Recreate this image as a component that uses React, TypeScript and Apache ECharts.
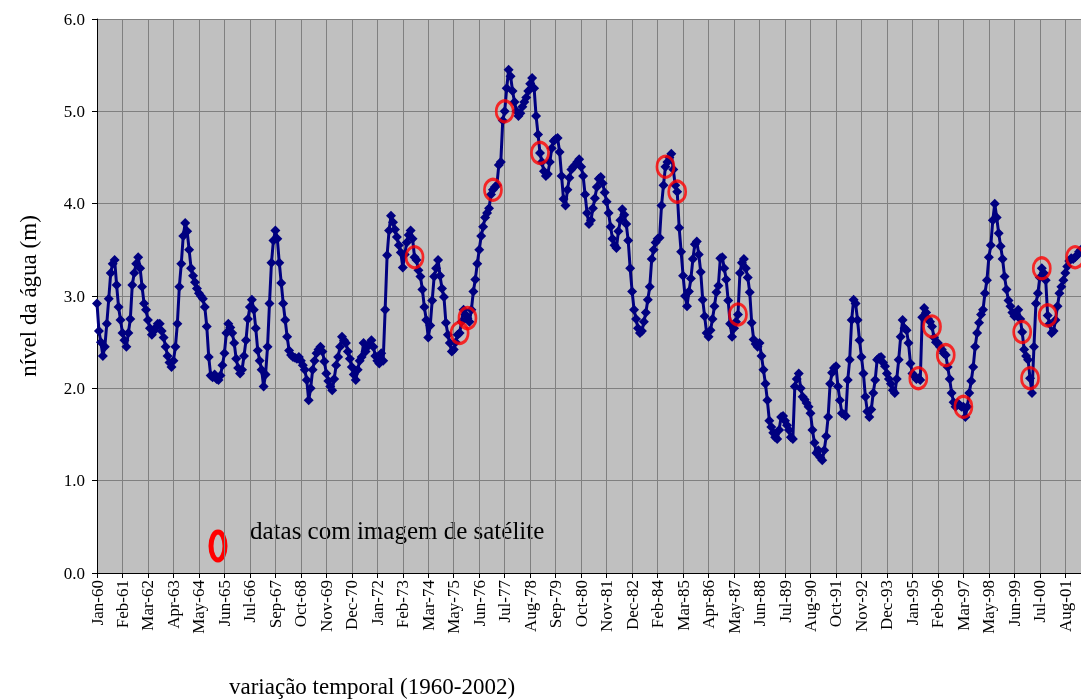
import { useEffect, useRef } from 'react';
import * as echarts from 'echarts';

// ---- categories (monthly, with 5 months absent in the source series) ----
const MONTH_NAMES = ['Jan', 'Feb', 'Mar', 'Apr', 'May', 'Jun', 'Jul', 'Aug', 'Sep', 'Oct', 'Nov', 'Dec'];
const SKIPPED_MONTHS = ['Jan-67', 'Jan-75', 'Jan-83', 'Jan-91', 'Jan-98'];
const START_YEAR = 1960;

// ---- water level (m), in index order ----
const level1960s = [
  2.92, 2.62, 2.50, 2.35, 2.45, 2.70, 2.97, 3.25, 3.35, 3.39, 3.12, 2.88,
  2.74, 2.60, 2.52, 2.45, 2.60, 2.75, 3.12, 3.25, 3.35, 3.42, 3.30, 3.10,
  2.92, 2.85, 2.74, 2.65, 2.58, 2.62, 2.66, 2.70, 2.70, 2.62, 2.55, 2.45,
  2.35, 2.28, 2.23, 2.30, 2.45, 2.70, 3.10, 3.35, 3.65, 3.79, 3.70, 3.50,
  3.30, 3.22, 3.15, 3.08, 3.03, 3.00, 2.97, 2.88, 2.67, 2.34, 2.14, 2.12,
  2.15, 2.10, 2.09, 2.14, 2.25, 2.38, 2.60, 2.70, 2.66, 2.60, 2.49, 2.32,
  2.22, 2.16, 2.20, 2.35, 2.52, 2.75, 2.88, 2.96, 2.85, 2.65, 2.41, 2.30,
  2.20, 2.02, 2.15, 2.45, 2.92, 3.36, 3.60, 3.71, 3.62, 3.36, 3.14, 2.92,
  2.74, 2.56, 2.41, 2.36, 2.34, 2.33, 2.32, 2.34, 2.30, 2.25, 2.20, 2.09,
  1.87, 2.00, 2.20, 2.30, 2.38, 2.42, 2.45, 2.40, 2.29, 2.16, 2.08, 2.02,
];
const level1970s = [
  1.98, 2.10, 2.25, 2.34, 2.45, 2.56, 2.52, 2.49, 2.40, 2.32, 2.23, 2.15,
  2.09, 2.20, 2.30, 2.34, 2.49, 2.40, 2.45, 2.48, 2.52, 2.45, 2.35, 2.30,
  2.27, 2.38, 2.30, 2.85, 3.44, 3.71, 3.87, 3.80, 3.72, 3.64, 3.55, 3.47,
  3.31, 3.45, 3.58, 3.66, 3.71, 3.62, 3.42, 3.39, 3.28, 3.21, 3.07, 2.88,
  2.74, 2.55, 2.68, 2.95, 3.21, 3.30, 3.39, 3.22, 3.08, 2.99, 2.71, 2.58,
  2.49, 2.40, 2.42, 2.50, 2.58, 2.60, 2.72, 2.85, 2.80, 2.76, 2.72, 2.85,
  3.05, 3.18, 3.35, 3.50, 3.65, 3.75, 3.85, 3.90, 3.95, 4.10, 4.15, 4.18,
  4.20, 4.42, 4.45, 4.90, 5.00, 5.25, 5.45, 5.38, 5.22, 5.10, 5.00, 4.95,
  4.98, 5.05, 5.10, 5.15, 5.22, 5.30, 5.36, 5.25, 4.95, 4.75, 4.55, 4.45,
  4.35, 4.30, 4.32, 4.45, 4.60, 4.68, 4.70, 4.71, 4.56, 4.30, 4.05, 3.98,
];
const level1980s = [
  4.15, 4.28, 4.37, 4.40, 4.42, 4.45, 4.48, 4.40, 4.30, 4.10, 3.90, 3.78,
  3.82, 3.95, 4.06, 4.18, 4.27, 4.29, 4.22, 4.12, 4.02, 3.90, 3.75, 3.62,
  3.55, 3.52, 3.70, 3.82, 3.94, 3.88, 3.78, 3.60, 3.30, 3.05, 2.85, 2.75,
  2.65, 2.60, 2.62, 2.72, 2.82, 2.96, 3.10, 3.40, 3.50, 3.58, 3.62, 3.63,
  3.98, 4.20, 4.40, 4.45, 4.50, 4.54, 4.37, 4.20, 4.13, 3.74, 3.48, 3.22,
  3.00, 2.89, 3.05, 3.19, 3.40, 3.56, 3.59, 3.45, 3.26, 2.96, 2.78, 2.60,
  2.56, 2.63, 2.75, 2.89, 3.04, 3.11, 3.41, 3.42, 3.30, 3.18, 2.95, 2.70,
  2.56, 2.65, 2.72, 2.80, 3.25, 3.36, 3.40, 3.30, 3.20, 3.04, 2.71, 2.53,
  2.48, 2.45, 2.49, 2.35, 2.20, 2.05, 1.87, 1.65, 1.58, 1.52, 1.47, 1.45,
  1.55, 1.69, 1.70, 1.65, 1.60, 1.55, 1.47, 1.45, 2.02, 2.10, 2.16, 2.00,
];
const level1990s = [
  1.91, 1.88, 1.84, 1.80, 1.73, 1.55, 1.41, 1.30, 1.33, 1.25, 1.22, 1.33,
  1.48, 1.69, 2.05, 2.17, 2.22, 2.24, 2.02, 1.87, 1.73, 1.72, 1.70, 2.09,
  2.31, 2.74, 2.96, 2.92, 2.74, 2.52, 2.34, 2.16, 1.91, 1.75, 1.69, 1.77,
  1.95, 2.09, 2.31, 2.33, 2.34, 2.28, 2.24, 2.16, 2.10, 2.05, 1.98, 1.95,
  2.10, 2.31, 2.56, 2.74, 2.65, 2.63, 2.49, 2.27, 2.16, 2.13, 2.10, 2.11,
  2.09, 2.77, 2.87, 2.82, 2.75, 2.72, 2.67, 2.55, 2.50, 2.49, 2.45, 2.42,
  2.38, 2.36, 2.23, 2.10, 1.95, 1.85, 1.80, 1.84, 1.82, 1.80, 1.80, 1.69,
  1.80, 1.95, 2.08, 2.23, 2.45, 2.60, 2.71, 2.80, 2.85, 3.03, 3.17, 3.42,
  3.55, 3.82, 4.00, 3.85, 3.68, 3.54, 3.40, 3.21, 3.07, 2.95, 2.89, 2.82,
  2.78, 2.80, 2.85, 2.75, 2.61, 2.42, 2.35, 2.31, 2.11, 1.95, 2.45, 2.92,
];
const level2000s = [
  3.03, 3.20, 3.30, 3.25, 3.17, 2.79, 2.70, 2.60, 2.62, 2.74, 2.89, 3.03,
  3.10, 3.17, 3.25, 3.32, 3.38, 3.41, 3.40, 3.42, 3.44, 3.48, 3.50,
];

// indices (into the series) of the dates that have a satellite image
const satelliteIdx = [162, 185, 189, 202, 208, 226, 290, 296, 327, 419, 426, 433, 442, 472, 476, 482, 485, 499];

const yTicks = [0, 1, 2, 3, 4, 5, 6];

const FONT = 'Liberation Serif';

function buildCategories(count: number): string[] {
  const out: string[] = [];
  let y = START_YEAR;
  let m = 0;
  while (out.length < count) {
    const label = `${MONTH_NAMES[m]}-${String(y % 100).padStart(2, '0')}`;
    if (!SKIPPED_MONTHS.includes(label)) out.push(label);
    m++;
    if (m === 12) { m = 0; y++; }
  }
  return out;
}

export default function App() {
  const ref = useRef<HTMLDivElement>(null);

  useEffect(() => {
    if (!ref.current) return;
    const chart = echarts.init(ref.current, undefined, { renderer: 'svg' });

    const level = [...level1960s, ...level1970s, ...level1980s, ...level1990s, ...level2000s];
    const categories = buildCategories(level.length);
    const satPoints = satelliteIdx.map((i) => [i, level[i]]);

    chart.setOption({
      animation: false,
      textStyle: { fontFamily: FONT },
      grid: {
        left: 89,
        top: 11,
        width: 985,
        height: 554,
        show: true,
        backgroundColor: '#C0C0C0',
        borderWidth: 0,
      },
      xAxis: {
        type: 'category',
        data: categories,
        boundaryGap: false,
        axisLine: { show: true, lineStyle: { color: '#000', width: 1 } },
        axisTick: { show: true, interval: 12, length: 5, lineStyle: { color: '#000' } },
        axisLabel: {
          interval: 12,
          rotate: 90,
          margin: 7,
          color: '#000',
          fontFamily: FONT,
          fontSize: 17,
        },
        splitLine: { show: true, interval: 12, lineStyle: { color: '#808080', width: 1 } },
      },
      yAxis: {
        type: 'value',
        min: yTicks[0],
        max: yTicks[yTicks.length - 1],
        interval: 1,
        axisLine: { show: true, lineStyle: { color: '#000', width: 1 } },
        axisTick: { show: true, length: 5, lineStyle: { color: '#000' } },
        axisLabel: {
          margin: 12,
          color: '#000',
          fontFamily: FONT,
          fontSize: 17,
          formatter: (v: number) => v.toFixed(1),
        },
        splitLine: { show: true, lineStyle: { color: '#808080', width: 1 } },
      },
      series: [
        {
          type: 'line',
          data: level,
          symbol: 'diamond',
          symbolSize: 10,
          showAllSymbol: true,
          lineStyle: { color: '#000080', width: 3 },
          itemStyle: { color: '#000080' },
          z: 2,
        },
        {
          type: 'scatter',
          data: satPoints,
          symbol: 'circle',
          symbolSize: [17, 21],
          itemStyle: { color: 'rgba(0,0,0,0)', borderColor: '#FF0000', borderWidth: 3 },
          z: 3,
        },
      ],
      graphic: [
        {
          type: 'ellipse',
          shape: { cx: 210, cy: 538, rx: 7, ry: 14 },
          style: { fill: 'none', stroke: '#FF0000', lineWidth: 5 },
        },
        {
          type: 'text',
          x: 242,
          y: 522,
          style: {
            text: 'datas com imagem de satélite',
            font: `25px ${FONT}`,
            fill: '#000',
            textAlign: 'left',
            textVerticalAlign: 'middle',
          },
        },
        {
          type: 'text',
          x: 364,
          y: 678,
          style: {
            text: 'variação temporal (1960-2002)',
            font: `23px ${FONT}`,
            fill: '#000',
            textAlign: 'center',
            textVerticalAlign: 'middle',
          },
        },
        {
          type: 'text',
          x: 20,
          y: 288,
          rotation: Math.PI / 2,
          style: {
            text: 'nível da água (m)',
            font: `23px ${FONT}`,
            fill: '#000',
            textAlign: 'center',
            textVerticalAlign: 'middle',
          },
        },
      ],
    });

    return () => chart.dispose();
  }, []);

  return (
    <div
      ref={ref}
      style={{ position: 'fixed', left: 8, top: 8, width: 1073, height: 692 }}
    />
  );
}
